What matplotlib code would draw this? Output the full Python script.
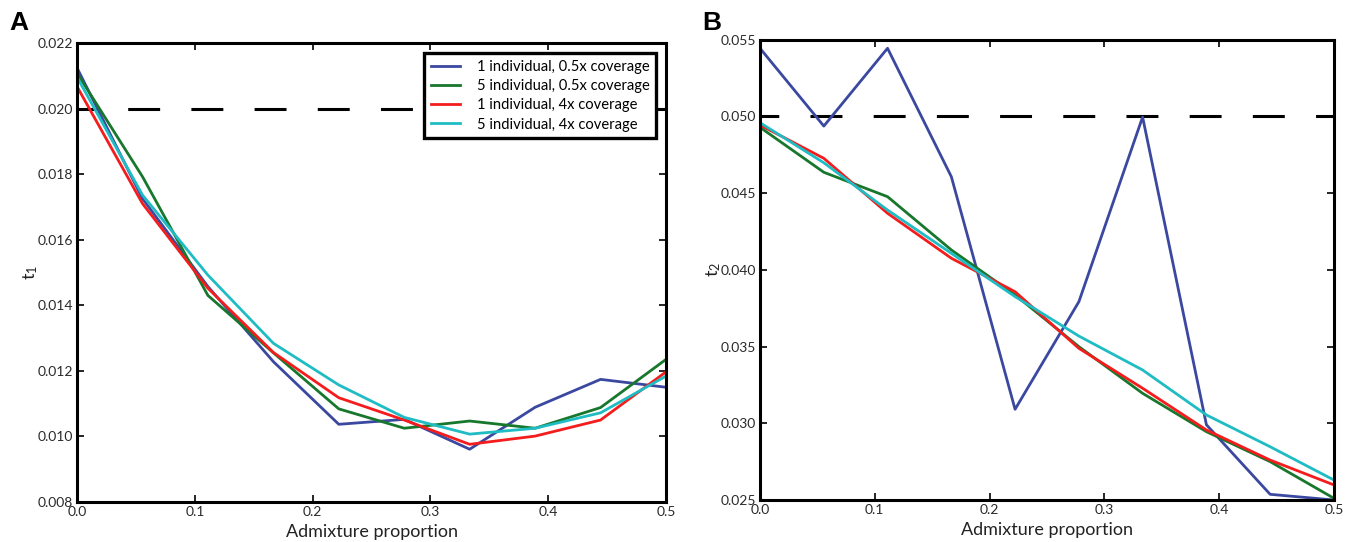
import matplotlib
matplotlib.use('Agg')
import matplotlib.pyplot as plt

# admixture proportions (10 steps from 0 to 0.5)
admix = [0.0, 0.0556, 0.1111, 0.1667, 0.2222, 0.2778, 0.3333, 0.3889, 0.4444, 0.5]

labels = ['1 individual, 0.5x coverage', '5 individual, 0.5x coverage',
          '1 individual, 4x coverage', '5 individual, 4x coverage']
colors = ['#3b48a0', '#17772c', '#f41c1c', '#1fbcc4']

# panel A: t1 estimates, true value 0.02
t1_true = 0.020
t1_ind1_low = [0.02124, 0.01725, 0.01457, 0.01228, 0.01037, 0.01052, 0.00961, 0.01089, 0.01174, 0.01150]
t1_ind5_low = [0.02108, 0.01792, 0.01430, 0.01255, 0.01084, 0.01025, 0.01047, 0.01025, 0.01088, 0.01235]
t1_ind1_high = [0.02067, 0.01710, 0.01452, 0.01256, 0.01118, 0.01050, 0.00976, 0.01001, 0.01050, 0.01197]
t1_ind5_high = [0.02096, 0.01736, 0.01492, 0.01284, 0.01157, 0.01058, 0.01007, 0.01025, 0.01072, 0.01184]

# panel B: t2 estimates, true value 0.05
t2_true = 0.050
t2_ind1_low = [0.05443, 0.04936, 0.05443, 0.04606, 0.03091, 0.03792, 0.04995, 0.02990, 0.02537, 0.02500]
t2_ind5_low = [0.04928, 0.04635, 0.04476, 0.04129, 0.03836, 0.03499, 0.03195, 0.02945, 0.02750, 0.02511]
t2_ind1_high = [0.04943, 0.04726, 0.04368, 0.04075, 0.03857, 0.03488, 0.03228, 0.02956, 0.02760, 0.02598]
t2_ind5_high = [0.04958, 0.04697, 0.04389, 0.04107, 0.03825, 0.03568, 0.03347, 0.03054, 0.02847, 0.02630]

plt.rcParams['font.family'] = ['Lato', 'DejaVu Sans']
plt.rcParams['lines.scale_dashes'] = False

fig = plt.figure(figsize=(13.54, 5.42), dpi=100)
axA = fig.add_axes([0.0569, 0.0738, 0.435, 0.8469])
axB = fig.add_axes([0.5613, 0.0775, 0.4239, 0.8496])

def style(ax, ylim, yticks, ylabel):
    ax.set_xlim(0, 0.5)
    ax.set_ylim(*ylim)
    ax.set_xticks([0.0, 0.1, 0.2, 0.3, 0.4, 0.5])
    ax.set_xticklabels(['0.0', '0.1', '0.2', '0.3', '0.4', '0.5'])
    ax.set_yticks(yticks)
    ax.tick_params(direction='in', top=True, right=True, length=5, width=1.2,
                   labelsize=10, color='black', labelcolor='#2a2a2a', pad=3)
    for s in ax.spines.values():
        s.set_linewidth(2.2)
    ax.set_xlabel('Admixture proportion', fontsize=13, labelpad=4, color='#222222')
    ax.set_ylabel(ylabel, fontsize=13, labelpad=-2, color='#222222')

series_A = [t1_ind1_low, t1_ind5_low, t1_ind1_high, t1_ind5_high]
series_B = [t2_ind1_low, t2_ind5_low, t2_ind1_high, t2_ind5_high]

axA.plot([0, 0.5], [t1_true, t1_true], color='black', lw=2.2,
         linestyle=(9, (23, 22.5)))
for vals, c, lab in zip(series_A, colors, labels):
    axA.plot(admix, vals, color=c, lw=2, label=lab)
style(axA, (0.008, 0.022), [0.008, 0.010, 0.012, 0.014, 0.016, 0.018, 0.020, 0.022],
      '$\\mathregular{t_1}$')
axA.set_yticklabels(['0.008', '0.010', '0.012', '0.014', '0.016', '0.018', '0.020', '0.022'])
leg = axA.legend(loc='upper right', bbox_to_anchor=(0.9955, 0.994), fontsize=10.6,
                 fancybox=False, handlelength=2.0, borderpad=0.45, labelspacing=0.36,
                 handletextpad=1.1, framealpha=1)
leg.get_frame().set_edgecolor('black')
leg.get_frame().set_linewidth(2.4)

axB.plot([0, 0.5], [t2_true, t2_true], color='black', lw=2.2,
         linestyle=(9.5, (23, 22.5)))
for vals, c in zip(series_B, colors):
    axB.plot(admix, vals, color=c, lw=2)
style(axB, (0.025, 0.055), [0.025, 0.030, 0.035, 0.040, 0.045, 0.050, 0.055],
      '$\\mathregular{t_2}$')
axB.set_yticklabels(['0.025', '0.030', '0.035', '0.040', '0.045', '0.050', '0.055'])

fig.text(0.007, 0.945, 'A', fontsize=19, fontweight='bold', family='Liberation Sans')
fig.text(0.519, 0.945, 'B', fontsize=19, fontweight='bold', family='Liberation Sans')

fig.savefig('out.png', dpi=100)
